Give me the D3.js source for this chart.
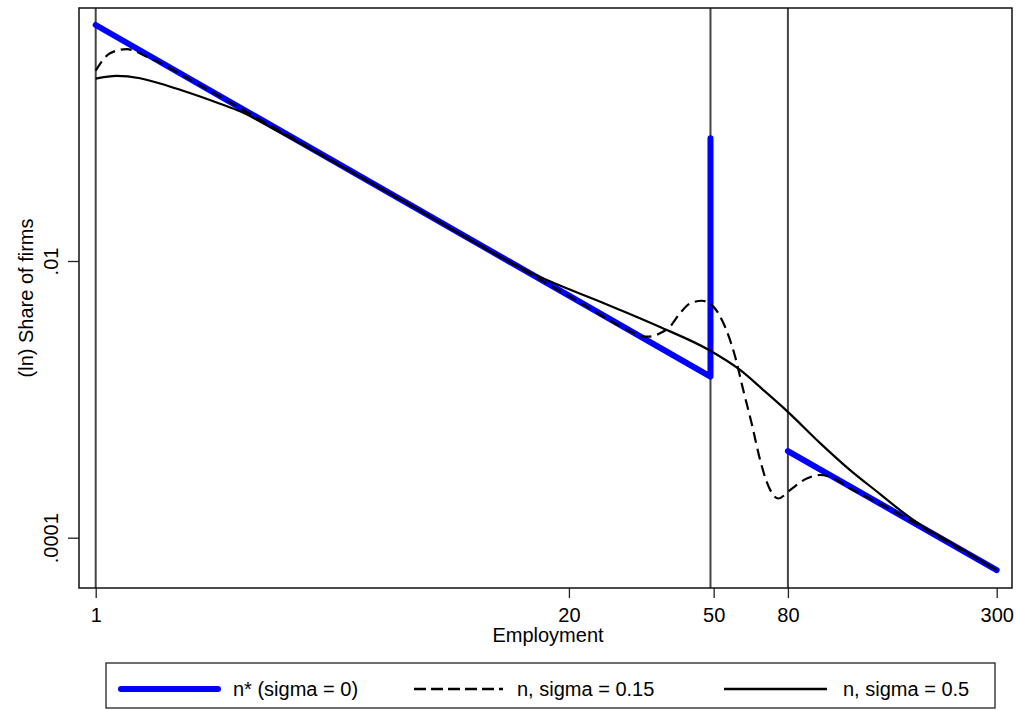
<!DOCTYPE html>
<html>
<head>
<meta charset="utf-8">
<script src="https://cdn.jsdelivr.net/npm/d3@7"></script>
<style>
  html, body { margin: 0; padding: 0; background: #fff; }
  svg { display: block; }
  text { font-family: "Liberation Sans", Arial, Helvetica, sans-serif; fill: #000; }
</style>
</head>
<body>
<svg id="chart" width="1016" height="710"></svg>
<script>
// Axis ticks
const xTicks = [1, 20, 50, 80, 300];
const xTickLabels = ["1", "20", "50", "80", "300"];
const yTicks = [0.0001, 0.01];
const yTickLabels = [".0001", ".01"];

// Vertical reference lines (employment)
const refLines = [1, 49, 80];

// n* (sigma = 0): two straight pieces, with a spike at 49 and a gap up to 80
const nStarEmp   = [1, 49, 49, null, 80, 300];
const nStarShare = [0.508, 0.00146, 0.0771, null, 0.000423, 0.0000583];

// n, sigma = 0.15
const emp15 = [1, 1.039, 1.095, 1.217, 1.381, 2, 3, 5, 8, 12, 20, 30, 31.4, 33.0, 35.6, 37.9,
               40.4, 43.1, 46.4, 49.9, 53.2, 57.3, 60.3, 63.6, 67.1, 70.0, 75.3, 81.1, 90.1,
               98.1, 104.5, 118.6, 150, 200, 250, 300];
const share15 = [0.2377, 0.276, 0.318, 0.340, 0.300, 0.177, 0.0965, 0.0448, 0.0221, 0.0120,
                 0.00557, 0.00303, 0.00287, 0.00284, 0.0030, 0.00335, 0.00419, 0.00494, 0.00516,
                 0.00468, 0.00355, 0.00203, 0.001167, 0.00067, 0.000364, 0.000252, 0.000192,
                 0.000221, 0.000268, 0.000284, 0.000275, 0.000227, 0.000165, 0.0001072,
                 0.0000767, 0.0000583];

// n, sigma = 0.5
const emp5 = [1, 1.142, 1.324, 1.503, 1.706, 1.936, 2.197, 2.494, 3.015, 4.137, 6.866, 12.93,
              15.64, 18.32, 24.4, 27.65, 35.6, 48.27, 59.1, 68.5, 80.1, 98.1, 118.6, 143.4,
              162.7, 184.7, 223.3, 300];
const share5 = [0.208, 0.218, 0.2094, 0.1920, 0.1729, 0.1544, 0.1369, 0.1207, 0.0931, 0.0589,
                0.02798, 0.01074, 0.00826, 0.00688, 0.00508, 0.00443, 0.003333, 0.002291,
                0.00163, 0.001167, 0.000809, 0.000483, 0.000308, 0.0002066, 0.0001583,
                0.0001244, 0.0000929, 0.0000583];

const legendLabels = ["n* (sigma = 0)", "n, sigma = 0.15", "n, sigma = 0.5"];

const svg = d3.select("#chart");
svg.append("rect").attr("width", 1016).attr("height", 710).attr("fill", "#fff");

// Plot region frame
const frame = { left: 79, top: 8, right: 1012, bottom: 588 };

const x = d3.scaleLog().domain([1, 300]).range([95.7, 996.7]);
const y = d3.scaleLog().domain([0.0001, 0.01]).range([537.7, 261]);

// Reference lines (drawn beneath the series)
svg.append("g").selectAll("line").data(refLines).join("line")
  .attr("x1", d => x(d)).attr("x2", d => x(d))
  .attr("y1", frame.top).attr("y2", frame.bottom)
  .attr("stroke", "#444").attr("stroke-width", 2);

// Frame
svg.append("rect")
  .attr("x", frame.left).attr("y", frame.top)
  .attr("width", frame.right - frame.left).attr("height", frame.bottom - frame.top)
  .attr("fill", "none").attr("stroke", "#111").attr("stroke-width", 1.5);

// X axis
const xAxis = d3.axisBottom(x).tickValues(xTicks)
  .tickFormat((d, i) => xTickLabels[i]).tickSize(10).tickSizeOuter(0);
const gx = svg.append("g").attr("transform", `translate(0,${frame.bottom})`).call(xAxis);
gx.select(".domain").remove();
gx.selectAll(".tick line").attr("stroke", "#222").attr("stroke-width", 1.3);
gx.selectAll(".tick text").attr("font-size", 20).attr("dy", null).attr("y", 34)
  .attr("font-family", "Liberation Sans, Arial, sans-serif").attr("fill", "#000");

// Y axis
const yAxis = d3.axisLeft(y).tickValues(yTicks)
  .tickFormat((d, i) => yTickLabels[i]).tickSize(11).tickSizeOuter(0);
const gy = svg.append("g").attr("transform", `translate(${frame.left},0)`).call(yAxis);
gy.select(".domain").remove();
gy.selectAll(".tick line").attr("stroke", "#222").attr("stroke-width", 1.3);
gy.selectAll(".tick text")
  .attr("font-size", 20).attr("x", null).attr("dy", null)
  .attr("text-anchor", "middle")
  .attr("transform", "translate(-21,0) rotate(-90)")
  .attr("font-family", "Liberation Sans, Arial, sans-serif").attr("fill", "#000");

// Axis titles
svg.append("text").attr("x", 548).attr("y", 642).attr("text-anchor", "middle")
  .attr("font-size", 20).text("Employment");
svg.append("text").attr("transform", "translate(33,298) rotate(-90)")
  .attr("text-anchor", "middle").attr("font-size", 20).text("(ln) Share of firms");

// Series
const nStar = nStarEmp.map((e, i) => [e, nStarShare[i]]);
const s15 = emp15.map((e, i) => [e, share15[i]]);
const s5 = emp5.map((e, i) => [e, share5[i]]);

const straight = d3.line().defined(d => d[0] != null).x(d => x(d[0])).y(d => y(d[1]));
const smooth = d3.line().x(d => x(d[0])).y(d => y(d[1])).curve(d3.curveMonotoneX);

svg.append("path").datum(nStar).attr("d", straight)
  .attr("fill", "none").attr("stroke", "#0000ff").attr("stroke-width", 6)
  .attr("stroke-linecap", "round").attr("stroke-linejoin", "round");

svg.append("path").datum(s15).attr("d", smooth)
  .attr("fill", "none").attr("stroke", "#000").attr("stroke-width", 2.2)
  .attr("stroke-dasharray", "11,6");

svg.append("path").datum(s5).attr("d", smooth)
  .attr("fill", "none").attr("stroke", "#000").attr("stroke-width", 2.2);

// Legend
const legend = svg.append("g");
legend.append("rect").attr("x", 106).attr("y", 663).attr("width", 889).attr("height", 45)
  .attr("fill", "#fff").attr("stroke", "#222").attr("stroke-width", 1.3);

const legendItems = [
  { x1: 121, x2: 218, label: 233, stroke: "#0000ff", width: 6, dash: null, cap: "round" },
  { x1: 414, x2: 503, label: 517, stroke: "#000", width: 2.4, dash: "12,5", cap: "butt" },
  { x1: 724, x2: 827, label: 843, stroke: "#000", width: 2.4, dash: null, cap: "butt" }
];
legendItems.forEach((it, i) => {
  legend.append("line").attr("x1", it.x1).attr("x2", it.x2).attr("y1", 689).attr("y2", 689)
    .attr("stroke", it.stroke).attr("stroke-width", it.width)
    .attr("stroke-dasharray", it.dash).attr("stroke-linecap", it.cap);
  legend.append("text").attr("x", it.label).attr("y", 696).attr("font-size", 20)
    .text(legendLabels[i]);
});
</script>
</body>
</html>
